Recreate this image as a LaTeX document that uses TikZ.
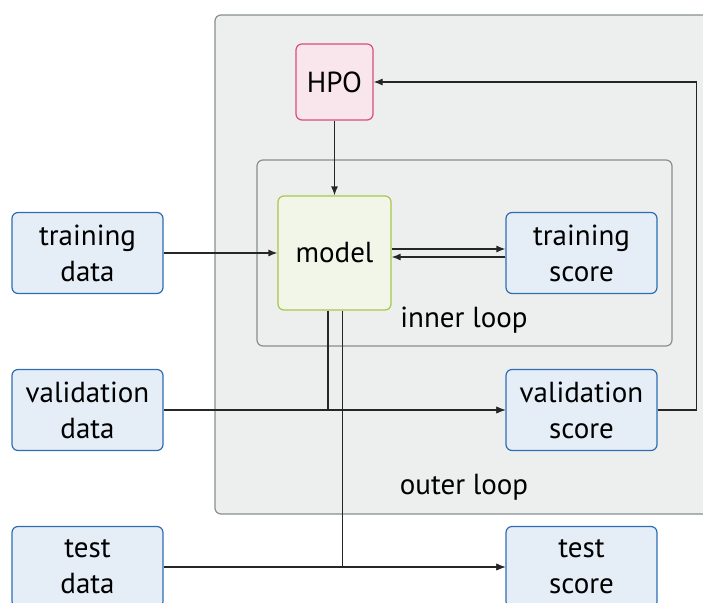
\documentclass[tikz,border=0pt]{standalone}
\usepackage{fontspec}
\setmainfont{PT Sans}
\usetikzlibrary{arrows.meta,calc}
\definecolor{loopfill}{HTML}{EDEEEE}
\definecolor{loopdraw}{HTML}{878F92}
\definecolor{hpofill}{HTML}{F9E6ED}
\definecolor{hpodraw}{HTML}{DD4B80}
\definecolor{modelfill}{HTML}{F2F6E9}
\definecolor{modeldraw}{HTML}{A4C94A}
\definecolor{boxfill}{HTML}{E5EDF6}
\definecolor{boxdraw}{HTML}{2E6DB4}
\definecolor{wire}{HTML}{262626}
\begin{document}
\begin{tikzpicture}[x=1pt,y=-1pt,
  every node/.style={font=\fontsize{29}{36}\selectfont, align=center, inner sep=0pt},
  loopbox/.style={draw=loopdraw, fill=loopfill, line width=1.2pt, rounded corners=6pt},
  databox/.style={draw=boxdraw, fill=boxfill, line width=1.2pt, rounded corners=6pt,
    minimum width=151pt, minimum height=81pt},
  hpobox/.style={draw=hpodraw, fill=hpofill, line width=1.2pt, rounded corners=6pt,
    minimum width=77pt, minimum height=76pt},
  modelbox/.style={draw=modeldraw, fill=modelfill, line width=1.2pt, rounded corners=6pt,
    minimum width=113pt, minimum height=114pt},
  conn/.style={draw=wire, line width=1.2pt, -{Latex[length=9pt,width=7pt]}},
  plain/.style={draw=wire, line width=1.2pt}]
\useasboundingbox (0,0) rectangle (703,602);
\clip (0,0) rectangle (703,602);

% outer and inner loop frames
\draw[loopbox] (215,15) rectangle (730,514);
\draw[loopbox] (257,160) rectangle (672,346);
\node (outerlabel) at (464,487) {outer loop};
\node (innerlabel) at (464,320) {inner loop};

% boxes
\node[hpobox] (hpo) at (334.5,82) {HPO};
\node[modelbox] (model) at (334.5,253) {model};
\node[databox] (tscore) at (581.5,253) {training\\score};
\node[databox] (vscore) at (581.5,410) {validation\\score};
\node[databox] (xscore) at (581.5,567) {test\\score};
\node[databox] (tdata) at (87.5,253) {training\\data};
\node[databox] (vdata) at (87.5,410) {validation\\data};
\node[databox] (xdata) at (87.5,567) {test\\data};

% connectors
\draw[conn] (hpo.south) -- (model.north);
\draw[conn] (tdata.east) -- (model.west);
\draw[conn] ([yshift=4pt]model.east) -- ([yshift=4pt]tscore.west);
\draw[conn] ([yshift=-4pt]tscore.west) -- ([yshift=-4pt]model.east);
\draw[conn] (vdata.east) -- (vscore.west);
\draw[conn] ([xshift=-6.5pt]model.south) |- (vscore.west);
\draw[conn] ([xshift=8pt]model.south) |- (xscore.west);
\draw[conn] (xdata.east) -- (xscore.west);
\coordinate (back) at ($(vscore.east)+(39,0)$);
\draw[conn] (vscore.east) -- (back) |- (hpo.east);
\end{tikzpicture}
\end{document}
